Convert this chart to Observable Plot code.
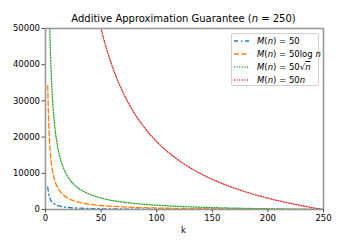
<!DOCTYPE html>
<html><head><meta charset="utf-8">
<script src="https://cdn.jsdelivr.net/npm/d3@7"></script>
<script src="https://cdn.jsdelivr.net/npm/@observablehq/plot@0.6"></script>
<style>
body{margin:0;background:#fff;}
#wrap{position:relative;width:360px;height:240px;font-family:"DejaVu Sans",sans-serif;color:#000;overflow:hidden}
#title{position:absolute;left:44px;width:279px;top:13px;text-align:center;font-size:10px;white-space:nowrap;color:#000}
#xlabel{position:absolute;left:44px;width:279px;top:225px;text-align:center;font-size:8.5px;color:#000}
#legend{position:absolute;left:231px;top:33px;width:88px;height:53px;border:1px solid #d0d0d0;border-radius:2px;background:rgba(255,255,255,0.85);font-size:8.5px;box-sizing:border-box;color:#000}
.row{position:absolute;left:0;height:13px;width:100%}
.row svg{position:absolute;left:2px;top:3.5px}
.row .lab{position:absolute;left:25px;top:1px;white-space:nowrap}
.ov{text-decoration:overline}
</style></head><body>
<div id="wrap"><div id="chart"></div>
<div id="title">Additive Approximation Guarantee (<i>n</i> = 250)</div>
<div id="xlabel">k</div>
<div id="legend"></div></div>
<script>
const kValues = [2,3,4,5,6,7,8,10,12,14,16,20,25,30,35,40,45,50,60,70,80,90,100,110,125,140,150,160,175,190,200,210,225,240,250];
const seriesConst = [6200,4133,3075,2450,2033,1736,1513,1200,992,843,731,575,450,367,307,263,228,200,158,129,106,89,75,64,50,39,33,28,21,16,13,10,6,2,0];
const seriesLog = [34233,22822,16978,13527,11227,9584,8351,6626,5475,4654,4038,3175,2485,2024,1696,1449,1258,1104,874,710,587,491,414,351,276,217,184,155,118,87,69,53,31,12,0];
const seriesSqrt = [98031,65354,48620,38738,32150,27444,23915,18974,15680,13327,11562,9092,7115,5797,4856,4151,3601,3162,2503,2033,1680,1406,1186,1006,791,621,527,445,339,250,198,151,88,33,0];
const seriesLinear = [1550000,1033333,768750,612500,508333,433929,378125,300000,247917,210714,182813,143750,112500,91667,76786,65625,56944,50000,39583,32143,26563,22222,18750,15909,12500,9821,8333,7031,5357,3947,3125,2381,1389,521,0];
const xTicks = [0,50,100,150,200,250];
const yTicks = [0,10000,20000,30000,40000,50000];

const series = [
  {vals: seriesConst, color: "#1f77b4", dash: "4,3,1.2,3", label: '<i>M</i>(<i>n</i>) = 50'},
  {vals: seriesLog, color: "#ff7f0e", dash: "5,2.5", label: '<i>M</i>(<i>n</i>) = 50log <i>n</i>'},
  {vals: seriesSqrt, color: "#2ca02c", dash: "1,1.6", label: '<i>M</i>(<i>n</i>) = 50√<span class="ov"><i>n</i></span>'},
  {vals: seriesLinear, color: "#d62728", dash: "1,1.6", label: '<i>M</i>(<i>n</i>) = 50<i>n</i>'}
];

const lines = series.map(s => Plot.line(kValues.map((k, i) => ({k, v: s.vals[i]})), {
  x: "k", y: "v", stroke: s.color, strokeWidth: 1.3, strokeDasharray: s.dash, curve: "monotone-x", clip: true
}));

const chart = Plot.plot({
  width: 360, height: 240,
  marginLeft: 45, marginRight: 37, marginTop: 28, marginBottom: 31,
  style: {fontFamily: "DejaVu Sans, sans-serif", fontSize: "8.5px", color: "#000", background: "transparent"},
  x: {domain: [0, 250]},
  y: {domain: [0, 50000]},
  marks: [
    ...lines,
    Plot.frame({stroke: "#999", strokeWidth: 1.6}),
    Plot.axisX({ticks: xTicks, tickSize: 3.5, tickPadding: 2, label: null, stroke: "#555"}),
    Plot.axisY({ticks: yTicks, tickSize: 3.5, tickPadding: 2, label: null, tickFormat: d3.format("d"), stroke: "#555"})
  ]
});
document.getElementById("chart").appendChild(chart);

const leg = document.getElementById("legend");
series.forEach((s, i) => {
  const row = document.createElement("div");
  row.className = "row";
  row.style.top = (i * 13 + 0.5) + "px";
  row.innerHTML = `<svg width="15" height="6"><line x1="0" y1="3" x2="15" y2="3" stroke="${s.color}" stroke-width="1.3" stroke-dasharray="${s.dash}"/></svg><span class="lab">${s.label}</span>`;
  leg.appendChild(row);
});
</script>
</body></html>
